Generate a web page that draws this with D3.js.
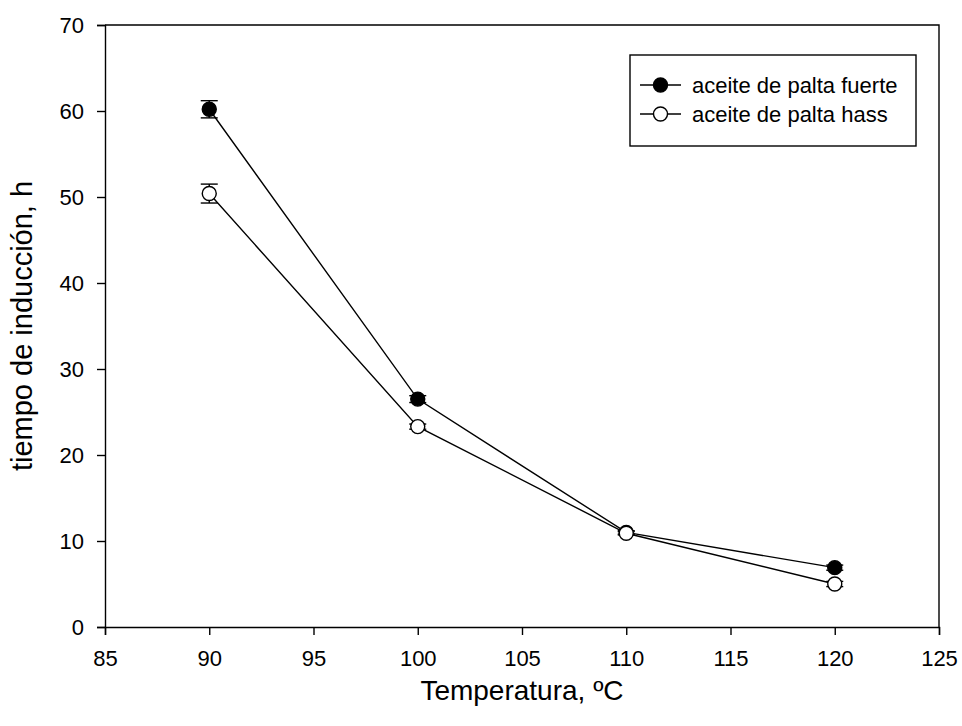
<!DOCTYPE html>
<html>
<head>
<meta charset="utf-8">
<script src="https://cdn.jsdelivr.net/npm/d3@7"></script>
<style>
  body { margin: 0; background: #fff; }
  svg { font-family: "Liberation Sans", Arial, sans-serif; }
</style>
</head>
<body>
<svg id="chart" width="962" height="726"></svg>
<script>
// data
const temps = [90, 100, 110, 120];
const fuerte = [60.2, 26.5, 11.0, 6.9];
const fuerteErr = [1.0, 0.4, 0.2, 0.3];
const hass = [50.4, 23.3, 10.9, 5.0];
const hassErr = [1.1, 0.3, 0.2, 0.3];
const xTicks = [85, 90, 95, 100, 105, 110, 115, 120, 125];
const yTicks = [0, 10, 20, 30, 40, 50, 60, 70];

const svg = d3.select("#chart");
const mLeft = 105, mRight = 939, mTop = 25, mBottom = 627;

const x = d3.scaleLinear().domain([85, 125]).range([mLeft, mRight]);
const y = d3.scaleLinear().domain([0, 70]).range([mBottom, mTop]);

// frame (top and right)
svg.append("path")
  .attr("d", `M${mLeft},${mTop}H${mRight}V${mBottom}`)
  .attr("fill", "none")
  .attr("stroke", "#000")
  .attr("stroke-width", 1.4);

const xAxis = svg.append("g")
  .attr("transform", `translate(0,${mBottom})`)
  .call(d3.axisBottom(x).tickValues(xTicks).tickSize(8).tickPadding(15).tickFormat(d3.format("d")));
const yAxis = svg.append("g")
  .attr("transform", `translate(${mLeft},0)`)
  .call(d3.axisLeft(y).tickValues(yTicks).tickSize(8).tickPadding(13).tickFormat(d3.format("d")));

[xAxis, yAxis].forEach((g) => {
  g.attr("font-size", 22).attr("font-family", "Liberation Sans, Arial, sans-serif");
  g.select(".domain").attr("stroke-width", 1.4);
  g.selectAll(".tick line").attr("stroke-width", 1.4);
  g.selectAll("text").attr("fill", "#000");
});

// axis titles
svg.append("text")
  .attr("x", (mLeft + mRight) / 2)
  .attr("y", 700)
  .attr("text-anchor", "middle")
  .attr("font-size", 28)
  .text("Temperatura, ºC");

svg.append("text")
  .attr("transform", `translate(32,${(mTop + mBottom) / 2}) rotate(-90)`)
  .attr("text-anchor", "middle")
  .attr("font-size", 29)
  .text("tiempo de inducción, h");

const series = [
  { name: "aceite de palta fuerte", vals: fuerte, err: fuerteErr, fill: "#000" },
  { name: "aceite de palta hass", vals: hass, err: hassErr, fill: "#fff" }
];

const line = d3.line()
  .x((d, i) => x(temps[i]))
  .y((d) => y(d));

series.forEach((s) => {
  svg.append("path")
    .datum(s.vals)
    .attr("d", line)
    .attr("fill", "none")
    .attr("stroke", "#000")
    .attr("stroke-width", 1.4);
});

series.forEach((s) => {
  const g = svg.append("g");
  s.vals.forEach((v, i) => {
    const cx = x(temps[i]);
    const y0 = y(v + s.err[i]), y1 = y(v - s.err[i]);
    g.append("line").attr("x1", cx).attr("x2", cx).attr("y1", y0).attr("y2", y1)
      .attr("stroke", "#000").attr("stroke-width", 1.4);
    [y0, y1].forEach((yy) => {
      g.append("line").attr("x1", cx - 8.5).attr("x2", cx + 8.5).attr("y1", yy).attr("y2", yy)
        .attr("stroke", "#000").attr("stroke-width", 1.4);
    });
    g.append("circle").attr("cx", cx).attr("cy", y(v)).attr("r", 7)
      .attr("fill", s.fill).attr("stroke", "#000").attr("stroke-width", 1.4);
  });
});

// legend
const legend = svg.append("g");
legend.append("rect")
  .attr("x", 630).attr("y", 55).attr("width", 286).attr("height", 91)
  .attr("fill", "#fff").attr("stroke", "#000").attr("stroke-width", 1.4);

series.forEach((s, i) => {
  const ly = 85 + i * 29;
  legend.append("line").attr("x1", 640).attr("x2", 681).attr("y1", ly).attr("y2", ly)
    .attr("stroke", "#000").attr("stroke-width", 1.4);
  legend.append("circle").attr("cx", 660.5).attr("cy", ly).attr("r", 7)
    .attr("fill", s.fill).attr("stroke", "#000").attr("stroke-width", 1.4);
  legend.append("text").attr("x", 692).attr("y", ly + 8)
    .attr("font-size", 22).text(s.name);
});
</script>
</body>
</html>
